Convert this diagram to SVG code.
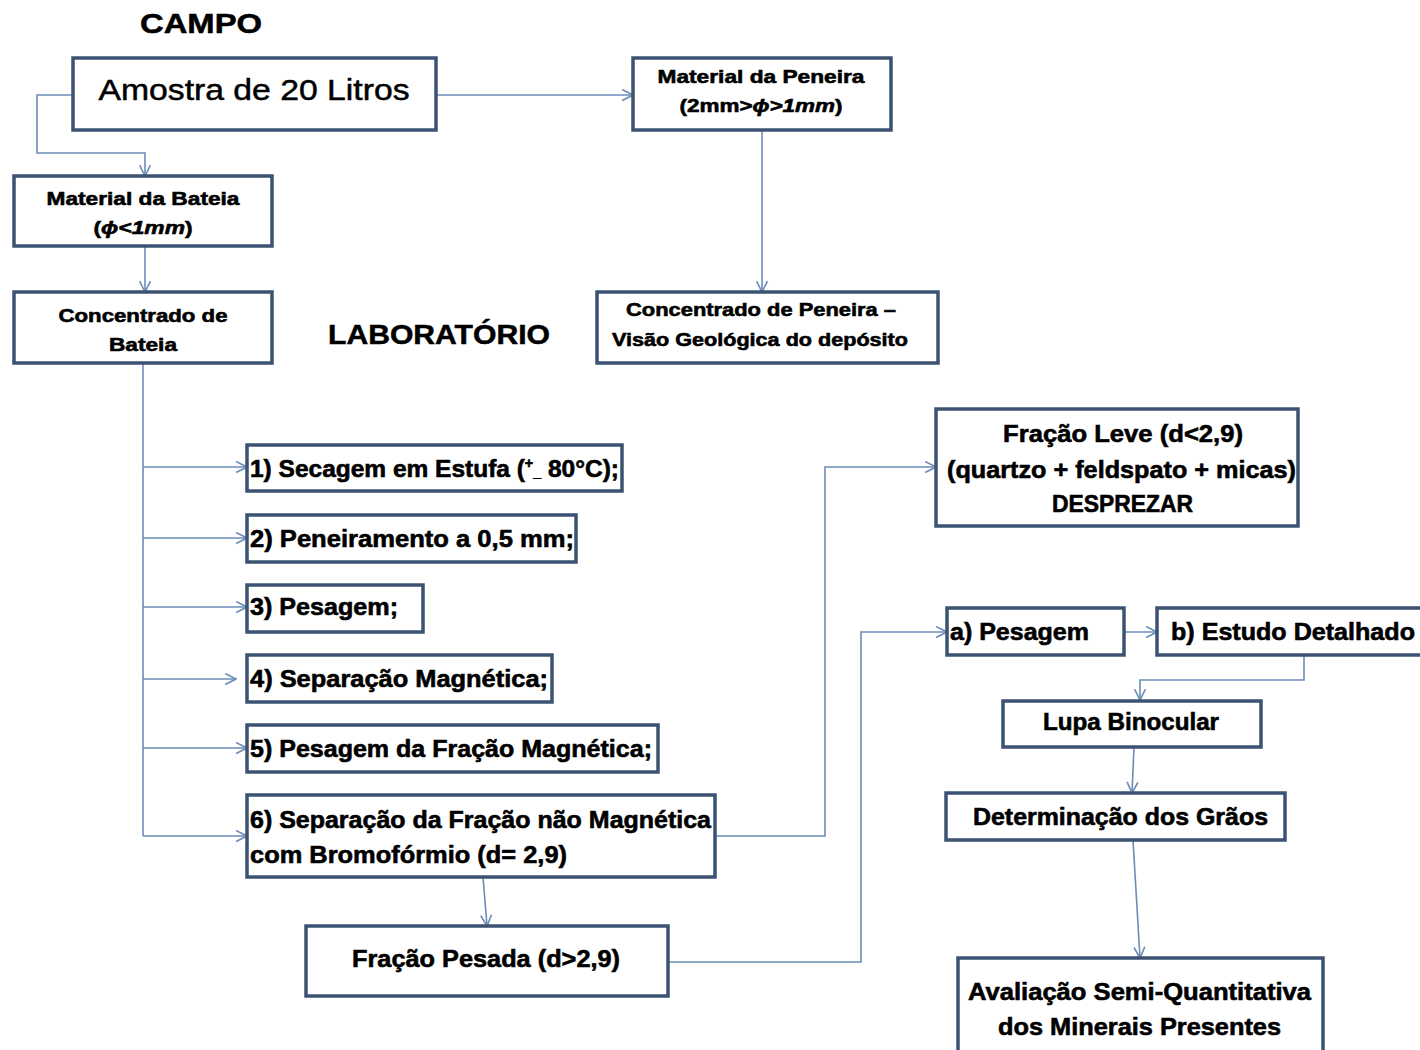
<svg xmlns="http://www.w3.org/2000/svg" width="1420" height="1050" viewBox="0 0 1420 1050">
<defs>
<style>
.box{fill:#ffffff;stroke:#3b5273;stroke-width:3.5}
.c{fill:none;stroke:#6c8cb8;stroke-width:1.6}
.t{font-family:"Liberation Sans",Arial,sans-serif;font-weight:bold;fill:#000;stroke:#000;stroke-width:0.6;text-anchor:middle}
.tl{font-family:"Liberation Sans",Arial,sans-serif;font-weight:bold;fill:#000;stroke:#000;stroke-width:0.6;text-anchor:start}
.h{font-family:"Liberation Sans",Arial,sans-serif;font-weight:bold;fill:#000;stroke:#000;stroke-width:0.5;font-size:27px}
.s{font-size:19px}
.m{font-size:24px}
</style>
<marker id="ar" viewBox="0 0 12 12" refX="11" refY="6" markerWidth="13" markerHeight="13" markerUnits="userSpaceOnUse" orient="auto">
<path d="M1,1 L11,6 L1,11" fill="none" stroke="#6c8cb8" stroke-width="1.5"/>
</marker>
</defs>
<rect width="1420" height="1050" fill="#ffffff"/>

<text class="h" x="140" y="33" textLength="122" lengthAdjust="spacingAndGlyphs">CAMPO</text>
<text class="h" x="328" y="344" textLength="222" lengthAdjust="spacingAndGlyphs">LABORATÓRIO</text>

<g id="connectors">
<path class="c" d="M436,95 L633,95" marker-end="url(#ar)"/>
<path class="c" d="M73,95 L37,95 L37,153 L145,153 L145,176" marker-end="url(#ar)"/>
<path class="c" d="M145,247 L145,292" marker-end="url(#ar)"/>
<path class="c" d="M762,130 L762,292" marker-end="url(#ar)"/>
<path class="c" d="M143,363 L143,836"/>
<path class="c" d="M143,467 L247,467" marker-end="url(#ar)"/>
<path class="c" d="M143,538 L247,538" marker-end="url(#ar)"/>
<path class="c" d="M143,607 L247,607" marker-end="url(#ar)"/>
<path class="c" d="M143,679 L236,679" marker-end="url(#ar)"/>
<path class="c" d="M143,748 L247,748" marker-end="url(#ar)"/>
<path class="c" d="M143,836 L247,836" marker-end="url(#ar)"/>
<path class="c" d="M715,836 L825,836 L825,467 L936,467" marker-end="url(#ar)"/>
<path class="c" d="M483,877 L487,926" marker-end="url(#ar)"/>
<path class="c" d="M668,962 L861,962 L861,632 L947,632" marker-end="url(#ar)"/>
<path class="c" d="M1124,632 L1157,632" marker-end="url(#ar)"/>
<path class="c" d="M1304,655 L1304,680 L1140,680 L1140,700" marker-end="url(#ar)"/>
<path class="c" d="M1134,747 L1132,793" marker-end="url(#ar)"/>
<path class="c" d="M1133,840 L1140,958" marker-end="url(#ar)"/>
</g>

<g id="amostra">
<rect class="box" x="73" y="58" width="363" height="72"/>
<text x="254" y="100" text-anchor="middle" font-family="'Liberation Sans',Arial,sans-serif" font-size="30" fill="#000" stroke="#000" stroke-width="0.5" textLength="311" lengthAdjust="spacingAndGlyphs">Amostra de 20 Litros</text>
</g>

<g id="material-peneira">
<rect class="box" x="633" y="58" width="258" height="72"/>
<text class="t s" x="761" y="83" textLength="207" lengthAdjust="spacingAndGlyphs">Material da Peneira</text>
<text class="t s" x="761" y="112" textLength="163" lengthAdjust="spacingAndGlyphs">(2mm&gt;<tspan font-style="italic">ϕ&gt;1mm</tspan>)</text>
</g>

<g id="material-bateia">
<rect class="box" x="14" y="176" width="258" height="70"/>
<text class="t s" x="143" y="205" textLength="193" lengthAdjust="spacingAndGlyphs">Material da Bateia</text>
<text class="t s" x="143" y="234" textLength="99" lengthAdjust="spacingAndGlyphs">(<tspan font-style="italic">ϕ&lt;1mm</tspan>)</text>
</g>

<g id="concentrado-bateia">
<rect class="box" x="14" y="292" width="258" height="71"/>
<text class="t s" x="143" y="322" textLength="169" lengthAdjust="spacingAndGlyphs">Concentrado de</text>
<text class="t s" x="143" y="351" textLength="68" lengthAdjust="spacingAndGlyphs">Bateia</text>
</g>

<g id="concentrado-peneira">
<rect class="box" x="597" y="292" width="341" height="71"/>
<text class="t s" x="761" y="316" textLength="270" lengthAdjust="spacingAndGlyphs">Concentrado de Peneira –</text>
<text class="t s" x="760" y="346" textLength="296" lengthAdjust="spacingAndGlyphs">Visão Geológica do depósito</text>
</g>

<g id="step1">
<rect class="box" x="247" y="445" width="375" height="46"/>
<text class="tl m" x="250" y="477" textLength="369" lengthAdjust="spacingAndGlyphs">1) Secagem em Estufa (<tspan font-size="14" dy="-9">+</tspan><tspan font-size="14" dy="9">_</tspan> 80°C);</text>
</g>

<g id="step2">
<rect class="box" x="247" y="515" width="329" height="47"/>
<text class="tl m" x="250" y="547" textLength="324" lengthAdjust="spacingAndGlyphs">2) Peneiramento a 0,5 mm;</text>
</g>

<g id="step3">
<rect class="box" x="247" y="585" width="176" height="47"/>
<text class="tl m" x="250" y="615" textLength="148" lengthAdjust="spacingAndGlyphs">3) Pesagem;</text>
</g>

<g id="step4">
<rect class="box" x="247" y="655" width="305" height="47"/>
<text class="tl m" x="250" y="687" textLength="298" lengthAdjust="spacingAndGlyphs">4) Separação Magnética;</text>
</g>

<g id="step5">
<rect class="box" x="247" y="725" width="411" height="47"/>
<text class="tl m" x="250" y="757" textLength="402" lengthAdjust="spacingAndGlyphs">5) Pesagem da Fração Magnética;</text>
</g>

<g id="step6">
<rect class="box" x="247" y="795" width="468" height="82"/>
<text class="tl m" x="250" y="828" textLength="461" lengthAdjust="spacingAndGlyphs">6) Separação da Fração não Magnética</text>
<text class="tl m" x="250" y="863" textLength="317" lengthAdjust="spacingAndGlyphs">com Bromofórmio (d= 2,9)</text>
</g>

<g id="fracao-pesada">
<rect class="box" x="306" y="926" width="362" height="70"/>
<text class="tl m" x="352" y="967" textLength="268" lengthAdjust="spacingAndGlyphs">Fração  Pesada (d&gt;2,9)</text>
</g>

<g id="fracao-leve">
<rect class="box" x="936" y="409" width="362" height="117"/>
<text class="tl m" x="1003" y="442" textLength="240" lengthAdjust="spacingAndGlyphs">Fração  Leve (d&lt;2,9)</text>
<text class="tl m" x="947" y="478" textLength="349" lengthAdjust="spacingAndGlyphs">(quartzo + feldspato + micas)</text>
<text class="tl m" x="1052" y="512" textLength="141" lengthAdjust="spacingAndGlyphs">DESPREZAR</text>
</g>

<g id="a-pesagem">
<rect class="box" x="947" y="608" width="177" height="47"/>
<text class="tl m" x="950" y="640" textLength="139" lengthAdjust="spacingAndGlyphs">a) Pesagem</text>
</g>

<g id="b-estudo">
<rect class="box" x="1157" y="608" width="270" height="47"/>
<text class="tl m" x="1171" y="640" textLength="244" lengthAdjust="spacingAndGlyphs">b) Estudo Detalhado</text>
</g>

<g id="lupa">
<rect class="box" x="1003" y="701" width="258" height="46"/>
<text class="tl m" x="1043" y="730" textLength="176" lengthAdjust="spacingAndGlyphs">Lupa Binocular</text>
</g>

<g id="determinacao">
<rect class="box" x="946" y="793" width="339" height="47"/>
<text class="tl m" x="973" y="825" textLength="295" lengthAdjust="spacingAndGlyphs">Determinação dos Grãos</text>
</g>

<g id="avaliacao">
<rect class="box" x="958" y="958" width="365" height="100"/>
<text class="tl m" x="968" y="1000" textLength="343" lengthAdjust="spacingAndGlyphs">Avaliação Semi-Quantitativa</text>
<text class="tl m" x="998" y="1035" textLength="283" lengthAdjust="spacingAndGlyphs">dos Minerais Presentes</text>
</g>
</svg>
